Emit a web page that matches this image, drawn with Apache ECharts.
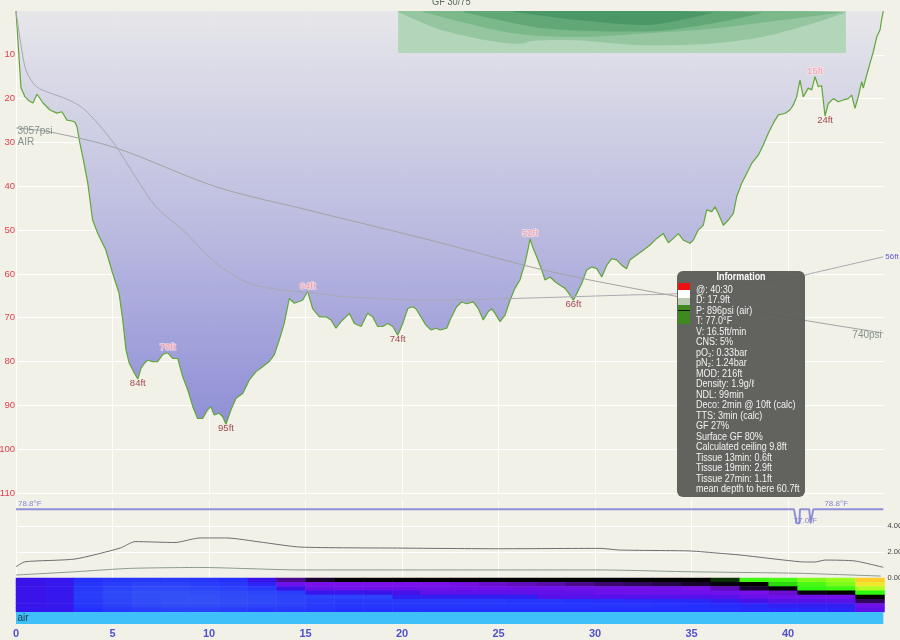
<!DOCTYPE html>
<html>
<head>
<meta charset="utf-8">
<style>
html, body { margin: 0; padding: 0; background: #f2f1e8; }
#chart { width: 900px; height: 640px; }
</style>
<script src="https://cdn.jsdelivr.net/npm/echarts@6/dist/echarts.min.js"></script>
</head>
<body>
<div id="chart"></div>
<script>
// depth profile, [minutes, feet]
const profile = [
  [0,0],[0.26,17.6],[0.47,19.6],[0.67,20.5],[0.88,21],[1.09,19],[1.4,21],[1.76,22.6],[2.12,23.3],[2.38,23],
  [2.64,24.9],[2.9,25.1],[3.06,25.4],[3.16,26.4],[3.28,29.5],[3.46,33.3],[3.72,39.3],[3.97,47.7],[4.23,50.7],
  [4.66,54.6],[5.01,59.9],[5.34,64.4],[5.53,70.5],[5.7,77.4],[5.87,80.4],[6.13,82.6],[6.31,84],[6.48,81.5],
  [6.65,80.4],[6.82,79.7],[7.08,80],[7.34,80],[7.6,78.4],[7.86,78],[8.12,79.3],[8.38,79.3],[8.64,83.5],[8.9,86.5],
  [9.16,90.3],[9.41,93],[9.67,93],[9.93,91],[10.1,90.3],[10.27,92.2],[10.53,91.8],[10.71,92.6],[10.88,94.3],
  [11.14,91],[11.4,88.4],[11.75,87.3],[12.09,84.2],[12.44,82.3],[12.78,81.2],[13.12,80],[13.38,78.5],[13.64,75.1],
  [13.9,71.3],[14.16,65.6],[14.42,66.7],[14.6,66.4],[14.85,66],[15.11,64],[15.37,67.9],[15.72,69.8],[16.06,69.8],
  [16.32,70.5],[16.58,72.4],[16.84,70.9],[17.1,69.8],[17.27,69],[17.53,71.3],[17.88,72],[18.22,69],[18.48,69.8],
  [18.74,72],[19,72],[19.26,71.3],[19.52,72],[19.78,74],[20.04,71.3],[20.3,67.9],[20.55,67.5],[20.73,68],
  [20.98,69.8],[21.24,71.7],[21.5,72.8],[21.76,72.4],[21.97,72.8],[22.32,72.4],[22.49,70.5],[22.83,67.5],
  [23.09,66.4],[23.35,66.8],[23.69,66.4],[23.95,67.9],[24.21,70.5],[24.47,68.6],[24.65,68],[24.82,69],[25.08,70.9],
  [25.34,69.4],[25.6,66],[25.85,63.3],[26.11,61.4],[26.37,57.6],[26.54,54.2],[26.63,52],[26.8,54.2],[26.98,56.1],
  [27.24,59.1],[27.41,61.4],[27.67,60.7],[27.93,61.8],[28.19,62.6],[28.45,63.3],[28.7,64.8],[28.88,66],[29.05,64.5],
  [29.31,62.2],[29.57,59.1],[29.83,58.4],[30.09,58.8],[30.35,60.7],[30.61,58],[30.87,56.5],[31.12,56.8],[31.38,58],
  [31.64,58.8],[31.81,56.8],[32.16,55.7],[32.5,54.6],[32.85,53.4],[33.2,51.9],[33.54,50.8],[33.8,52.9],[34.06,51.9],
  [34.32,50.8],[34.58,52.3],[34.92,53],[35.09,52.3],[35.35,50],[35.61,48.9],[35.79,45.4],[36.05,45.8],[36.22,44.7],
  [36.39,46.2],[36.65,48.9],[36.91,47.7],[37.17,46.2],[37.34,42.4],[37.6,39.3],[37.86,37.1],[38.12,34.8],[38.46,32.9],
  [38.72,30.6],[38.98,27.9],[39.24,25.6],[39.5,23.7],[39.84,23.4],[40.1,22.6],[40.27,21.5],[40.45,19.6],[40.62,15.8],
  [40.79,19.6],[41.05,17.6],[41.23,18],[41.4,15],[41.57,17.3],[41.74,17],[41.92,24],[42.09,21.1],[42.35,20],
  [42.61,20.7],[42.87,20.3],[43.12,20],[43.3,19.2],[43.47,22.2],[43.64,19.6],[43.82,16.1],[43.9,17.6],[44.08,14.6],
  [44.25,11.9],[44.42,9.3],[44.6,5.9],[44.77,4.3],[44.85,2],[44.94,0]
];

const meanDepth = [
  [0,0],[0.3,8.9],[0.55,13.9],[1.07,17.3],[1.76,18.7],[2.63,20.1],[3.32,21.7],[3.83,23.7],[4.5,27],[5.2,31],
  [6.2,37.9],[7.25,44.7],[8.65,50],[10.36,57.5],[12.07,62.1],[13.83,63.7],[15.54,64.4],[17.25,65.3],[21.76,66],
  [26.63,65.5],[31.8,64.8],[34.25,64.5],[40.5,60.7],[41.2,59.9],[44.94,56.1]
];

// tank pressure, psi
const tankPressure = [
  [0,3057],[1.7,3015],[5.2,2830],[10.4,2390],[15.5,2110],[21.8,1770],[26.6,1490],[29.7,1340],[34.3,1150],
  [40.5,896],[44.94,740]
];

// ceiling band (ft)
const ceilingBox = [[19.8,9.6],[43.0,9.6]];
const ceilingA = [[19.81,0.2],[22.32,4.7],[26.11,7.5],[26.8,6.8],[28.53,6.6],[32.68,7.8],[36.13,7.4],[38.72,5.9],[41.31,2.8],[43.0,0.4]];
const ceilingB = [[21.1,0.2],[25.77,5.1],[29.22,5.9],[32.68,5.1],[36.13,4.0],[39.59,2.1],[43.0,0.2]];
const ceilingC = [[23.18,0.2],[27.5,4.0],[32.68,4.7],[36.13,2.8],[38.72,0.4]];
const ceilingD = [[25.77,0.2],[29.22,2.1],[32.68,3.2],[34.4,2.1],[36.13,0.4]];

const maxLabels = [[6.31,84,'84ft'],[10.88,94.3,'95ft'],[19.78,74,'74ft'],[28.88,66,'66ft'],[41.92,24,'24ft']];
const minLabels = [[7.86,78,'78ft'],[15.11,64,'64ft'],[26.63,52,'52ft'],[41.4,15,'15ft']];
const pressureLabels = [[0,3057,'3057psi\nAIR'],[44.94,740,'740psi']];

const temperature = [
  [0,78.8],[40.31,78.8],[40.45,77.0],[40.59,77.0],[40.62,78.8],[41.1,78.8],[41.17,77.0],[41.27,77.0],[41.31,78.8],[44.94,78.8]
];
const tempLabels = [[0,78.8,'78.8°F'],[42.5,78.8,'78.8°F'],[40.9,77.0,'77.0°F']];

// partial pressures, bar
const pN2 = [
  [0,0.87],[0.47,1.25],[3.06,1.46],[5.39,2.3],[6.17,2.8],[8.24,2.73],[9.53,3.08],[10.93,3.08],[12.64,2.77],
  [14.72,2.38],[20,2.3],[25,2.25],[30.26,2.28],[31.3,2.15],[34.92,2.08],[36.48,1.9],[37.51,1.77],[40.62,1.25],
  [41.4,1.23],[41.92,1.38],[43.47,1.31],[44.94,0.82]
];
const pO2 = [
  [0,0.23],[3.06,0.48],[5.9,0.74],[9.53,0.81],[14.72,0.62],[30.26,0.62],[34.92,0.48],[40.62,0.36],[44.8,0.15]
];

// tissue heat rows (top = fast tissues), columns of 1.5 min
const tissueRows = [
  [-0.5,-0.55,-0.75,-0.78,-0.8,-0.8,-0.78,-0.75,-0.5,-0.15,-0.05,0,0,0,0,0,0,0,0,0,0,0,0,0,0.05,0.28,0.3,0.4,0.45,0.8],
  [-0.5,-0.55,-0.78,-0.82,-0.85,-0.85,-0.82,-0.8,-0.65,-0.3,-0.25,-0.25,-0.25,-0.25,-0.25,-0.24,-0.22,-0.2,-0.18,-0.15,-0.12,-0.1,-0.08,-0.05,-0.02,0,0.22,0.3,0.4,0.7],
  [-0.5,-0.55,-0.8,-0.85,-0.88,-0.88,-0.86,-0.84,-0.8,-0.5,-0.32,-0.3,-0.3,-0.3,-0.3,-0.3,-0.3,-0.3,-0.3,-0.3,-0.28,-0.28,-0.28,-0.26,-0.2,-0.05,0,0.25,0.28,0.5],
  [-0.5,-0.55,-0.82,-0.88,-0.92,-0.92,-0.9,-0.88,-0.86,-0.82,-0.55,-0.55,-0.5,-0.45,-0.35,-0.35,-0.35,-0.35,-0.35,-0.34,-0.3,-0.3,-0.3,-0.3,-0.3,-0.25,-0.22,-0.02,0,0.25],
  [-0.5,-0.55,-0.82,-0.88,-0.92,-0.92,-0.92,-0.9,-0.88,-0.86,-0.85,-0.85,-0.85,-0.6,-0.6,-0.6,-0.6,-0.6,-0.4,-0.4,-0.4,-0.4,-0.4,-0.4,-0.38,-0.32,-0.3,-0.3,-0.28,0],
  [-0.52,-0.55,-0.8,-0.86,-0.9,-0.92,-0.92,-0.9,-0.88,-0.85,-0.82,-0.8,-0.8,-0.8,-0.8,-0.8,-0.8,-0.78,-0.78,-0.76,-0.74,-0.72,-0.7,-0.68,-0.6,-0.45,-0.4,-0.4,-0.38,-0.1],
  [-0.52,-0.55,-0.78,-0.84,-0.88,-0.9,-0.9,-0.88,-0.86,-0.84,-0.8,-0.78,-0.78,-0.78,-0.78,-0.78,-0.78,-0.78,-0.78,-0.78,-0.78,-0.78,-0.76,-0.75,-0.72,-0.68,-0.62,-0.6,-0.6,-0.3],
  [-0.55,-0.55,-0.75,-0.8,-0.82,-0.84,-0.84,-0.82,-0.8,-0.8,-0.78,-0.76,-0.76,-0.76,-0.76,-0.76,-0.76,-0.76,-0.76,-0.76,-0.75,-0.75,-0.75,-0.75,-0.74,-0.72,-0.7,-0.68,-0.66,-0.35]
];

const gasBar = [[0,1],[44.94,1]];
const gasLabel = [[0,0.5,'air']];

const infoLines = [
  '@: 40:30', 'D: 17.9ft', 'P: 896psi (air)', 'T: 77.0°F', 'V: 16.5ft/min', 'CNS: 5%',
  'pO₂: 0.33bar', 'pN₂: 1.24bar', 'MOD: 216ft', 'Density: 1.9g/ℓ', 'NDL: 99min',
  'Deco: 2min @ 10ft (calc)', 'TTS: 3min (calc)', 'GF 27%', 'Surface GF 80%',
  'Calculated ceiling 9.8ft', 'Tissue 13min: 0.6ft', 'Tissue 19min: 2.9ft', 'Tissue 27min: 1.1ft',
  'mean depth to here 60.7ft'
];

const FONT = 'Liberation Sans, Arial, sans-serif';
const L = 16, W = 868.5;

const heatCols = tissueRows[0].map((_, i) => String(i));
const heatData = [];
tissueRows.forEach((row, r) => row.forEach((v, c) => heatData.push([c, r, v])));

const chart = echarts.init(document.getElementById('chart'), null, { renderer: 'canvas' });

const timeAxis = (gi, showLabels) => ({
  type: 'value', gridIndex: gi, min: 0, max: 45, interval: 5,
  axisLine: { show: false }, axisTick: { show: false },
  axisLabel: showLabels
    ? { show: true, color: '#5052cc', fontSize: 11, fontWeight: 'bold', fontFamily: FONT, margin: 4, showMaxLabel: false }
    : { show: false },
  splitLine: { show: gi < 3, showMaxLine: false, lineStyle: { color: '#ffffff', width: 1 } }
});

const ceilingSeries = (data, color) => ({
  type: 'line', xAxisIndex: 0, yAxisIndex: 0, data, symbol: 'none', smooth: 0.3,
  lineStyle: { width: 0 }, areaStyle: { color, opacity: 1 }, z: 3, silent: true
});

const Z = 100;

chart.setOption({
  animation: false,
  backgroundColor: '#f2f1e8',
  textStyle: { fontFamily: FONT },
  grid: [
    { left: L, top: 11, width: W, height: 482, outerBoundsMode: 'none' },
    { left: L, top: 500, width: W, height: 31.1, outerBoundsMode: 'none' },
    { left: L, top: 526, width: W, height: 52, outerBoundsMode: 'none' },
    { left: L, top: 578, width: W, height: 34, outerBoundsMode: 'none' },
    { left: L, top: 612, width: W, height: 12, outerBoundsMode: 'none' }
  ],
  xAxis: [
    timeAxis(0, false), timeAxis(1, false), timeAxis(2, false),
    { type: 'category', gridIndex: 3, data: heatCols, show: false },
    timeAxis(4, true)
  ],
  yAxis: [
    {
      type: 'value', gridIndex: 0, inverse: true, min: 0, max: 110, interval: 10,
      axisLine: { show: false }, axisTick: { show: false },
      axisLabel: { color: '#df3f4e', fontSize: 9.5, margin: 1, showMinLabel: false, fontFamily: FONT },
      splitLine: { lineStyle: { color: '#ffffff', width: 1 } }
    },
    { type: 'value', gridIndex: 0, min: -1070, max: 4380, show: false, splitLine: { show: false } },
    { type: 'value', gridIndex: 1, min: 76, max: 80, show: false, splitLine: { show: false } },
    {
      type: 'value', gridIndex: 2, min: 0, max: 4, interval: 2, position: 'right',
      axisLine: { show: false }, axisTick: { show: false },
      axisLabel: { margin: 3, fontSize: 7.5, color: '#444', formatter: v => v.toFixed(2) },
      splitLine: { lineStyle: { color: '#ffffff', width: 1 } }
    },
    { type: 'category', gridIndex: 3, inverse: true, data: tissueRows.map((_, i) => String(i)), show: false },
    { type: 'value', gridIndex: 4, min: 0, max: 1, show: false, splitLine: { show: false } }
  ],
  visualMap: [{
    type: 'continuous', show: false, seriesIndex: 14, min: -1, max: 1,
    inRange: { color: ['#3a5ef2', '#2430ff', '#3a12ea', '#7a10ea', '#000000', '#30f810', '#b0ff20', '#ffe030', '#ff8010'] }
  }],
  series: [
    {
      type: 'line', xAxisIndex: 0, yAxisIndex: 0, data: profile, symbol: 'none', z: 2,
      lineStyle: { color: '#62a63a', width: 1.2 },
      areaStyle: {
        opacity: 0.92,
        color: {
          type: 'linear', x: 0, y: 11, x2: 0, y2: 430, global: true,
          colorStops: [
            { offset: 0, color: '#e6e6ea' },
            { offset: 0.5, color: '#b8b8e0' },
            { offset: 1, color: '#8585d5' }
          ]
        }
      }
    },
    ceilingSeries(ceilingBox, '#b3d5b9'),
    ceilingSeries(ceilingA, '#95c6a0'),
    ceilingSeries(ceilingB, '#7bb88a'),
    ceilingSeries(ceilingC, '#62a877'),
    ceilingSeries(ceilingD, '#4b9866'),
    {
      type: 'line', xAxisIndex: 0, yAxisIndex: 0, data: meanDepth, symbol: 'none', smooth: 0.3, z: 4,
      lineStyle: { color: '#a9a9b2', width: 1 },
      endLabel: {
        show: true, distance: 2, fontSize: 8, color: '#5a5ad0',
        formatter: p => Math.round(p.value[1]) + 'ft'
      }
    },
    {
      type: 'line', xAxisIndex: 0, yAxisIndex: 1, data: tankPressure, symbol: 'none', smooth: 0.3, z: 4,
      lineStyle: { color: '#a3a3a3', width: 1 }
    },
    {
      type: 'scatter', xAxisIndex: 0, yAxisIndex: 0, data: maxLabels, symbolSize: 1, z: 6,
      itemStyle: { color: 'rgba(0,0,0,0)' },
      label: { show: true, position: 'bottom', distance: -1, fontSize: 9.5, color: '#8c1c2c', formatter: p => p.data[2] }
    },
    {
      type: 'scatter', xAxisIndex: 0, yAxisIndex: 0, data: minLabels, symbolSize: 1, z: 6,
      itemStyle: { color: 'rgba(0,0,0,0)' },
      label: {
        show: true, position: 'top', distance: 0, fontSize: 9.5, color: '#f08f9c',
        textBorderColor: '#fde6e8', textBorderWidth: 1.5, formatter: p => p.data[2]
      }
    },
    {
      type: 'line', xAxisIndex: 1, yAxisIndex: 2, data: temperature, symbol: 'none', z: 3,
      lineStyle: { color: '#9090d8', width: 2 }
    },
    {
      type: 'scatter', xAxisIndex: 1, yAxisIndex: 2, data: tempLabels, symbolSize: 1, z: 6,
      itemStyle: { color: 'rgba(0,0,0,0)' },
      label: {
        show: true, fontSize: 8, color: '#6a6ac4', formatter: p => p.data[2],
        position: 'top', distance: 1
      },
      labelLayout: p => p.dataIndex === 0 ? { align: 'left', dx: 2 } : (p.dataIndex === 2 ? { dy: 3 } : {})
    },
    {
      type: 'line', xAxisIndex: 2, yAxisIndex: 3, data: pN2, symbol: 'none', smooth: 0.2, z: 3,
      lineStyle: { color: '#6e6e6e', width: 1 }
    },
    {
      type: 'line', xAxisIndex: 2, yAxisIndex: 3, data: pO2, symbol: 'none', smooth: 0.2, z: 3,
      lineStyle: { color: '#8a9a8a', width: 1 }
    },
    {
      type: 'heatmap', xAxisIndex: 3, yAxisIndex: 4, data: heatData, z: 2,
      itemStyle: { borderWidth: 0 }, emphasis: { disabled: true }
    },
    {
      type: 'line', xAxisIndex: 4, yAxisIndex: 5, data: gasBar, symbol: 'none', z: 2,
      lineStyle: { width: 0 }, areaStyle: { color: '#40c0f8', opacity: 1 }
    },
    {
      type: 'scatter', xAxisIndex: 0, yAxisIndex: 1, data: pressureLabels, symbolSize: 1, z: 6,
      itemStyle: { color: 'rgba(0,0,0,0)' },
      label: {
        show: true, fontSize: 10, lineHeight: 11, color: '#667a70', formatter: p => p.data[2],
        position: 'right', distance: 1
      },
      labelLayout: p => p.dataIndex === 0 ? { dy: 9 } : { align: 'right', dx: -3, dy: 2 }
    },
    {
      type: 'scatter', xAxisIndex: 4, yAxisIndex: 5, data: gasLabel, symbolSize: 1, z: 6,
      itemStyle: { color: 'rgba(0,0,0,0)' },
      label: { show: true, position: 'right', distance: 1, fontSize: 10, color: '#111', formatter: p => p.data[2] }
    }
  ],
  graphic: [
    {
      type: 'text', left: 432, top: -3, z: Z, scaleX: 0.88,
      style: { text: 'GF 30/75', fill: '#5b6e60', font: '10.5px ' + FONT }
    },
    {
      type: 'group', left: 677, top: 271, z: Z,
      children: [
        { type: 'rect', z: Z, shape: { x: 0, y: 0, width: 128, height: 226, r: 6 }, style: { fill: 'rgba(92,92,88,0.96)' } },
        { type: 'text', z: Z + 1, x: 64, y: 1, scaleX: 0.85, style: { text: 'Information', fill: '#ffffff', font: 'bold 10.5px ' + FONT, align: 'center' } },
        { type: 'rect', z: Z + 1, shape: { x: 1, y: 12, width: 12, height: 7 }, style: { fill: '#ee1111' } },
        { type: 'rect', z: Z + 1, shape: { x: 1, y: 19, width: 12, height: 8 }, style: { fill: '#ffffff' } },
        { type: 'rect', z: Z + 1, shape: { x: 1, y: 27, width: 12, height: 7 }, style: { fill: '#b9c9b0' } },
        { type: 'rect', z: Z + 1, shape: { x: 1, y: 34, width: 12, height: 19 }, style: { fill: '#3e8a1e' } },
        { type: 'rect', z: Z + 2, shape: { x: 1, y: 39, width: 12, height: 1 }, style: { fill: '#111111' } },
        {
          type: 'text', z: Z + 1, x: 19, y: 13.5, scaleX: 0.86,
          style: { text: infoLines.join('\n'), fill: '#f2f2f2', font: '10.5px ' + FONT, lineHeight: 10.5 }
        }
      ]
    }
  ]
});
</script>
</body>
</html>
